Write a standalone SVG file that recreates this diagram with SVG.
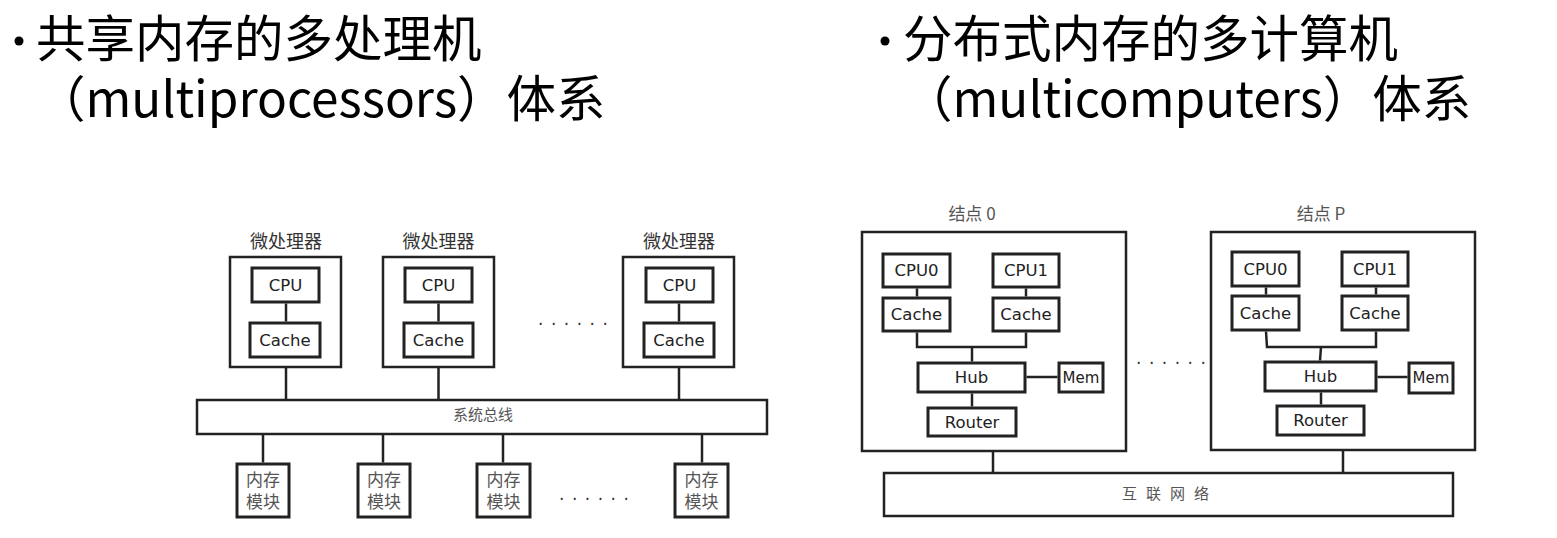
<svg xmlns="http://www.w3.org/2000/svg" width="1557" height="538" viewBox="0 0 1557 538">
<style>
.title{font-family:"Noto Sans CJK SC","Noto Sans",sans-serif;font-size:49.5px;fill:#000}
.box{fill:#fff;stroke:#222;stroke-width:2.5}
.ibox{fill:#fff;stroke:#222;stroke-width:3}
.ln{stroke:#222;stroke-width:2.5;fill:none}
.lbl{font-family:"DejaVu Sans",sans-serif;font-size:16.5px;fill:#222;text-anchor:middle;dominant-baseline:central}
.sm{font-size:15px}
.cjk{font-family:"Noto Sans CJK SC",sans-serif;font-size:18px;fill:#333;text-anchor:middle;dominant-baseline:central}
.mem{font-family:"Noto Sans CJK SC",sans-serif;font-size:17px;fill:#555;text-anchor:middle;dominant-baseline:central}
.dots{font-family:"DejaVu Sans",sans-serif;font-size:17px;fill:#333;letter-spacing:7.5px}
</style>
<g id="titles">
<circle cx="19" cy="41" r="4.5" fill="#000"/>
<text class="title" x="36" y="57">共享内存的多处理机</text>
<text class="title" x="36" y="117">（multiprocessors）体系</text>
<circle cx="885" cy="41" r="4.5" fill="#000"/>
<text class="title" x="903" y="57">分布式内存的多计算机</text>
<text class="title" x="903" y="117">（multicomputers）体系</text>
</g>
<g id="proc1">
<text class="cjk" x="286" y="240">微处理器</text>
<rect class="box" x="230" y="257" width="111" height="110"/>
<rect class="ibox" x="252" y="268" width="67" height="34"/>
<text class="lbl" x="285.5" y="285">CPU</text>
<rect class="ibox" x="250" y="323" width="70" height="34"/>
<text class="lbl" x="285" y="340">Cache</text>
</g>
<g id="proc2">
<text class="cjk" x="438.5" y="240">微处理器</text>
<rect class="box" x="383" y="257" width="111" height="110"/>
<rect class="ibox" x="405" y="268" width="67" height="34"/>
<text class="lbl" x="438.5" y="285">CPU</text>
<rect class="ibox" x="404" y="323" width="69" height="34"/>
<text class="lbl" x="438.5" y="340">Cache</text>
</g>
<g id="proc3">
<text class="cjk" x="679" y="240">微处理器</text>
<rect class="box" x="623" y="257" width="111" height="110"/>
<rect class="ibox" x="646" y="268" width="67" height="34"/>
<text class="lbl" x="679.5" y="285">CPU</text>
<rect class="ibox" x="644" y="323" width="70" height="34"/>
<text class="lbl" x="679" y="340">Cache</text>
</g>
<text class="dots" x="538" y="325">......</text>
<g id="bus">
<rect class="box" x="197" y="400" width="570" height="34"/>
<text class="cjk" x="483" y="413" style="font-size:15px;fill:#555">系统总线</text>
</g>
<g id="mem1">
<rect class="ibox" x="237" y="464" width="52" height="53"/>
<text class="mem" x="263" y="478">内存</text>
<text class="mem" x="263" y="500">模块</text>
</g>
<g id="mem2">
<rect class="ibox" x="358" y="464" width="52" height="53"/>
<text class="mem" x="384" y="478">内存</text>
<text class="mem" x="384" y="500">模块</text>
</g>
<g id="mem3">
<rect class="ibox" x="477" y="464" width="53" height="53"/>
<text class="mem" x="503.5" y="478">内存</text>
<text class="mem" x="503.5" y="500">模块</text>
</g>
<g id="mem4">
<rect class="ibox" x="675" y="464" width="53" height="53"/>
<text class="mem" x="701.5" y="478">内存</text>
<text class="mem" x="701.5" y="500">模块</text>
</g>
<text class="dots" x="559" y="500">......</text>
<g id="node0">
<text class="cjk" x="972" y="212" style="fill:#555;font-size:17px">结点 0</text>
<rect class="box" x="862" y="232" width="264" height="219"/>
<rect class="ibox" x="883" y="254" width="67" height="33"/>
<text class="lbl" x="916.5" y="270.5">CPU0</text>
<rect class="ibox" x="993" y="254" width="66" height="33"/>
<text class="lbl" x="1026" y="270.5">CPU1</text>
<rect class="ibox" x="883" y="298" width="67" height="33"/>
<text class="lbl" x="916.5" y="314.5">Cache</text>
<rect class="ibox" x="993" y="298" width="66" height="33"/>
<text class="lbl" x="1026" y="314.5">Cache</text>
<rect class="ibox" x="918" y="363" width="107" height="29"/>
<text class="lbl" x="971.5" y="377.5">Hub</text>
<rect class="ibox" x="1059" y="363" width="44" height="29"/>
<text class="lbl sm" x="1081" y="377.5">Mem</text>
<rect class="ibox" x="928" y="408" width="88" height="28"/>
<text class="lbl" x="972" y="422">Router</text>
</g>
<text class="dots" x="1136" y="364">......</text>
<g id="nodeP">
<text class="cjk" x="1321" y="212" style="fill:#555;font-size:17px">结点 P</text>
<rect class="box" x="1211" y="232" width="264" height="218"/>
<rect class="ibox" x="1232" y="252" width="67" height="34"/>
<text class="lbl" x="1265.5" y="269">CPU0</text>
<rect class="ibox" x="1342" y="252" width="66" height="34"/>
<text class="lbl" x="1375" y="269">CPU1</text>
<rect class="ibox" x="1232" y="296" width="67" height="34"/>
<text class="lbl" x="1265.5" y="313">Cache</text>
<rect class="ibox" x="1342" y="296" width="66" height="34"/>
<text class="lbl" x="1375" y="313">Cache</text>
<rect class="ibox" x="1265" y="362" width="111" height="29"/>
<text class="lbl" x="1320.5" y="376.5">Hub</text>
<rect class="ibox" x="1409" y="363" width="44" height="30"/>
<text class="lbl sm" x="1431" y="378">Mem</text>
<rect class="ibox" x="1277" y="406" width="87" height="29"/>
<text class="lbl" x="1320.5" y="420.5">Router</text>
</g>
<g id="network">
<rect class="box" x="884" y="473" width="569" height="43"/>
<text class="cjk" x="1170" y="492" style="font-size:15px;fill:#555;letter-spacing:9px">互联网络</text>
</g>
<g id="connectors">
<line class="ln" x1="286" y1="303.5" x2="286" y2="321.5"/>
<line class="ln" x1="438.5" y1="303.5" x2="438.5" y2="321.5"/>
<line class="ln" x1="679" y1="303.5" x2="679" y2="321.5"/>
<line class="ln" x1="286" y1="368" x2="286" y2="399"/>
<line class="ln" x1="438.5" y1="368" x2="438.5" y2="399"/>
<line class="ln" x1="679" y1="368" x2="679" y2="399"/>
<line class="ln" x1="263" y1="435" x2="263" y2="462.5"/>
<line class="ln" x1="383" y1="435" x2="383" y2="462.5"/>
<line class="ln" x1="503" y1="435" x2="503" y2="462.5"/>
<line class="ln" x1="702" y1="435" x2="702" y2="462.5"/>
<line class="ln" x1="917" y1="288.5" x2="917" y2="296.5"/>
<line class="ln" x1="1026" y1="288.5" x2="1026" y2="296.5"/>
<polyline class="ln" points="917,332.5 917,347 1026,347 1026,332.5"/>
<line class="ln" x1="972" y1="347" x2="972" y2="361.5"/>
<line class="ln" x1="1026.5" y1="377" x2="1057.5" y2="377"/>
<line class="ln" x1="972" y1="393.5" x2="972" y2="406.5"/>
<line class="ln" x1="993" y1="452" x2="993" y2="472"/>
<line class="ln" x1="1266" y1="287.5" x2="1266" y2="294.5"/>
<line class="ln" x1="1376" y1="287.5" x2="1376" y2="294.5"/>
<polyline class="ln" points="1266,331.5 1267,347 1376,347 1376,331.5"/>
<line class="ln" x1="1321" y1="347" x2="1320" y2="360.5"/>
<line class="ln" x1="1377.5" y1="377" x2="1407.5" y2="377"/>
<line class="ln" x1="1321" y1="392.5" x2="1321" y2="404.5"/>
<line class="ln" x1="1343" y1="451" x2="1343" y2="472"/>
</g>
</svg>
